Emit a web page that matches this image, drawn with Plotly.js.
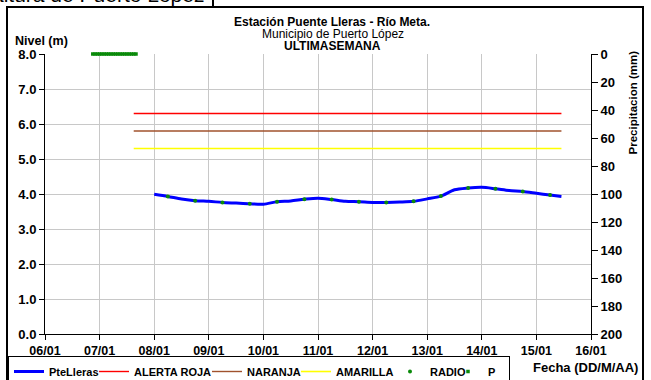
<!DOCTYPE html>
<html>
<head>
<meta charset="utf-8">
<script src="https://cdn.plot.ly/plotly-3.0.1.min.js"></script>
<style>html,body{margin:0;padding:0;background:#fff;}#chart{width:651px;height:380px;}</style>
</head>
<body>
<div id="chart"></div>
<script>
// ---- data ----
var levelTimes = ['2014-01-08 00:00','2014-01-08 06:00','2014-01-08 12:00','2014-01-08 18:00',
  '2014-01-09 00:00','2014-01-09 06:00','2014-01-09 12:00','2014-01-09 18:00',
  '2014-01-10 00:00','2014-01-10 06:00','2014-01-10 12:00','2014-01-10 18:00',
  '2014-01-11 00:00','2014-01-11 06:00','2014-01-11 12:00','2014-01-11 18:00',
  '2014-01-12 00:00','2014-01-12 06:00','2014-01-12 12:00','2014-01-12 18:00',
  '2014-01-13 00:00','2014-01-13 06:00','2014-01-13 12:00','2014-01-13 18:00',
  '2014-01-14 00:00','2014-01-14 06:00','2014-01-14 12:00','2014-01-14 18:00',
  '2014-01-15 00:00','2014-01-15 06:00','2014-01-15 11:00'];
var levelValues = [3.99,3.93,3.86,3.81, 3.79,3.76,3.74,3.72, 3.71,3.78,3.80,3.85,
  3.88,3.84,3.79,3.78, 3.76,3.76,3.77,3.79, 3.86,3.94,4.12,4.17,
  4.19,4.15,4.10,4.07, 4.02,3.97,3.93];

var radioTimes = ['2014-01-08 06:00','2014-01-08 18:00','2014-01-09 06:00','2014-01-09 18:00',
  '2014-01-10 06:00','2014-01-10 18:00','2014-01-11 06:00','2014-01-11 18:00',
  '2014-01-12 06:00','2014-01-12 18:00','2014-01-13 06:00','2014-01-13 18:00',
  '2014-01-14 06:00','2014-01-14 18:00','2014-01-15 06:00'];
var radioValues = [3.93,3.81,3.76,3.72,3.78,3.85,3.84,3.78,3.76,3.79,3.94,4.17,4.15,4.07,3.97];

var alertTimes = ['2014-01-07 15:00','2014-01-15 11:00'];
var rojaValues = [6.3, 6.3];
var naranjaValues = [5.8, 5.8];
var amarillaValues = [5.3, 5.3];

var precTimes = ['2014-01-06 21:00','2014-01-06 22:00','2014-01-06 23:00','2014-01-07 00:00',
  '2014-01-07 01:00','2014-01-07 02:00','2014-01-07 03:00','2014-01-07 04:00',
  '2014-01-07 05:00','2014-01-07 06:00','2014-01-07 07:00','2014-01-07 08:00',
  '2014-01-07 09:00','2014-01-07 10:00','2014-01-07 11:00','2014-01-07 12:00',
  '2014-01-07 13:00','2014-01-07 14:00','2014-01-07 15:00','2014-01-07 16:00'];
var precValues = [0,0,0,0,0,0,0,0,0,0,0,0,0,0,0,0,0,0,0,0];

var seriesNames = ['PteLleras','ALERTA ROJA','NARANJA','AMARILLA','RADIO','P'];
var xRange = ['2014-01-06 00:00','2014-01-16 00:00'];

// ---- chart ----
var FONT = 'Liberation Sans, Arial, sans-serif';
var GREEN = '#0a8a0a';

var traces = [
  {x: levelTimes, y: levelValues, name: seriesNames[0], type: 'scatter', mode: 'lines',
   line: {color: '#0000ff', width: 3, shape: 'spline', smoothing: 0.8}, legendwidth: 40},
  {x: alertTimes, y: rojaValues, name: seriesNames[1], type: 'scatter', mode: 'lines',
   line: {color: '#ff0000', width: 1.4}, legendwidth: 68},
  {x: alertTimes, y: naranjaValues, name: seriesNames[2], type: 'scatter', mode: 'lines',
   line: {color: '#a0522d', width: 1.4}, legendwidth: 44},
  {x: alertTimes, y: amarillaValues, name: seriesNames[3], type: 'scatter', mode: 'lines',
   line: {color: '#ffff00', width: 1.6}, legendwidth: 49},
  {x: radioTimes, y: radioValues, name: seriesNames[4], type: 'scatter', mode: 'markers',
   marker: {color: GREEN, size: 4, symbol: 'circle'}, legendwidth: 13},
  {x: precTimes, y: precValues, name: seriesNames[5], type: 'scatter', mode: 'markers', yaxis: 'y2',
   marker: {color: GREEN, size: 3.5, symbol: 'square'}, legendwidth: 16, cliponaxis: false}
];

function px2x(px){ return (px - 45) / 546; }
function px2y(py){ return (334 - py) / 280; }

var layout = {
  width: 651, height: 380,
  margin: {l: 45, r: 60, t: 54, b: 46, autoexpand: false},
  paper_bgcolor: '#ffffff', plot_bgcolor: '#ffffff',
  font: {family: FONT, color: '#000'},
  showlegend: true,
  legend: {orientation: 'h', x: px2x(8), xanchor: 'left', y: px2y(356), yanchor: 'top',
    bordercolor: '#000', borderwidth: 1, bgcolor: '#fff',
    font: {family: FONT, size: 11, weight: 'bold', color: '#000'}},
  xaxis: {type: 'date', range: xRange, dtick: 86400000, tick0: '2014-01-06', tickformat: '%d/%m',
    showgrid: true, gridcolor: '#c8c8c8', gridwidth: 1,
    showline: true, linecolor: '#000', linewidth: 1, ticks: 'outside', ticklen: 5, tickcolor: '#000',
    tickfont: {family: FONT, size: 12.5, weight: 'bold'}, zeroline: false, fixedrange: true},
  yaxis: {range: [0, 8], dtick: 1, tickformat: '.1f', showgrid: true, gridcolor: '#c8c8c8', gridwidth: 1,
    showline: true, linecolor: '#000', linewidth: 1, ticks: 'outside', ticklen: 5, tickcolor: '#000',
    tickfont: {family: FONT, size: 13, weight: 'bold'}, zeroline: false},
  yaxis2: {overlaying: 'y', side: 'right', range: [200, 0], dtick: 20, showgrid: false,
    showline: true, linecolor: '#000', linewidth: 1, ticks: 'outside', ticklen: 6, tickcolor: '#000',
    tickfont: {family: FONT, size: 13, weight: 'bold'}, zeroline: false},
  shapes: [
    {type: 'rect', xref: 'paper', yref: 'paper', x0: px2x(7), x1: px2x(643), y0: px2y(7), y1: px2y(400),
     line: {color: '#000', width: 2}, fillcolor: 'rgba(0,0,0,0)', layer: 'above'},
    {type: 'line', xref: 'paper', yref: 'paper', x0: px2x(213), x1: px2x(213), y0: px2y(7), y1: px2y(-5),
     line: {color: '#000', width: 2}}
  ],
  annotations: [
    {text: 'altura de Puerto López', xref: 'paper', yref: 'paper', x: px2x(206), y: px2y(-5.5),
     xanchor: 'right', yanchor: 'middle', showarrow: false, font: {family: FONT, size: 21}},
    {text: 'Estación Puente Lleras - Río Meta.', xref: 'paper', yref: 'paper', x: px2x(332), y: px2y(22),
     xanchor: 'center', yanchor: 'middle', showarrow: false, borderpad: 0, font: {family: FONT, size: 12, weight: 'bold'}},
    {text: 'Municipio de Puerto López', xref: 'paper', yref: 'paper', x: px2x(333), y: px2y(34),
     xanchor: 'center', yanchor: 'middle', showarrow: false, borderpad: 0, font: {family: FONT, size: 12}},
    {text: 'ULTIMASEMANA', xref: 'paper', yref: 'paper', x: px2x(332), y: px2y(46),
     xanchor: 'center', yanchor: 'middle', showarrow: false, borderpad: 0, font: {family: FONT, size: 12, weight: 'bold'}},
    {text: 'Nivel (m)', xref: 'paper', yref: 'paper', x: px2x(14), y: px2y(41),
     xanchor: 'left', yanchor: 'middle', showarrow: false, borderpad: 0, font: {family: FONT, size: 12.5, weight: 'bold'}},
    {text: 'Precipitacion (mm)', xref: 'paper', yref: 'paper', x: px2x(632.5), y: px2y(103),
     xanchor: 'center', yanchor: 'middle', textangle: -90, showarrow: false, font: {family: FONT, size: 11.5, weight: 'bold'}},
    {text: 'Fecha (DD/M/AA)', xref: 'paper', yref: 'paper', x: px2x(640), y: px2y(367),
     xanchor: 'right', yanchor: 'middle', showarrow: false, font: {family: FONT, size: 13, weight: 'bold'}}
  ]
};

Plotly.newPlot('chart', traces, layout, {displayModeBar: false, staticPlot: true});
</script>
</body>
</html>
